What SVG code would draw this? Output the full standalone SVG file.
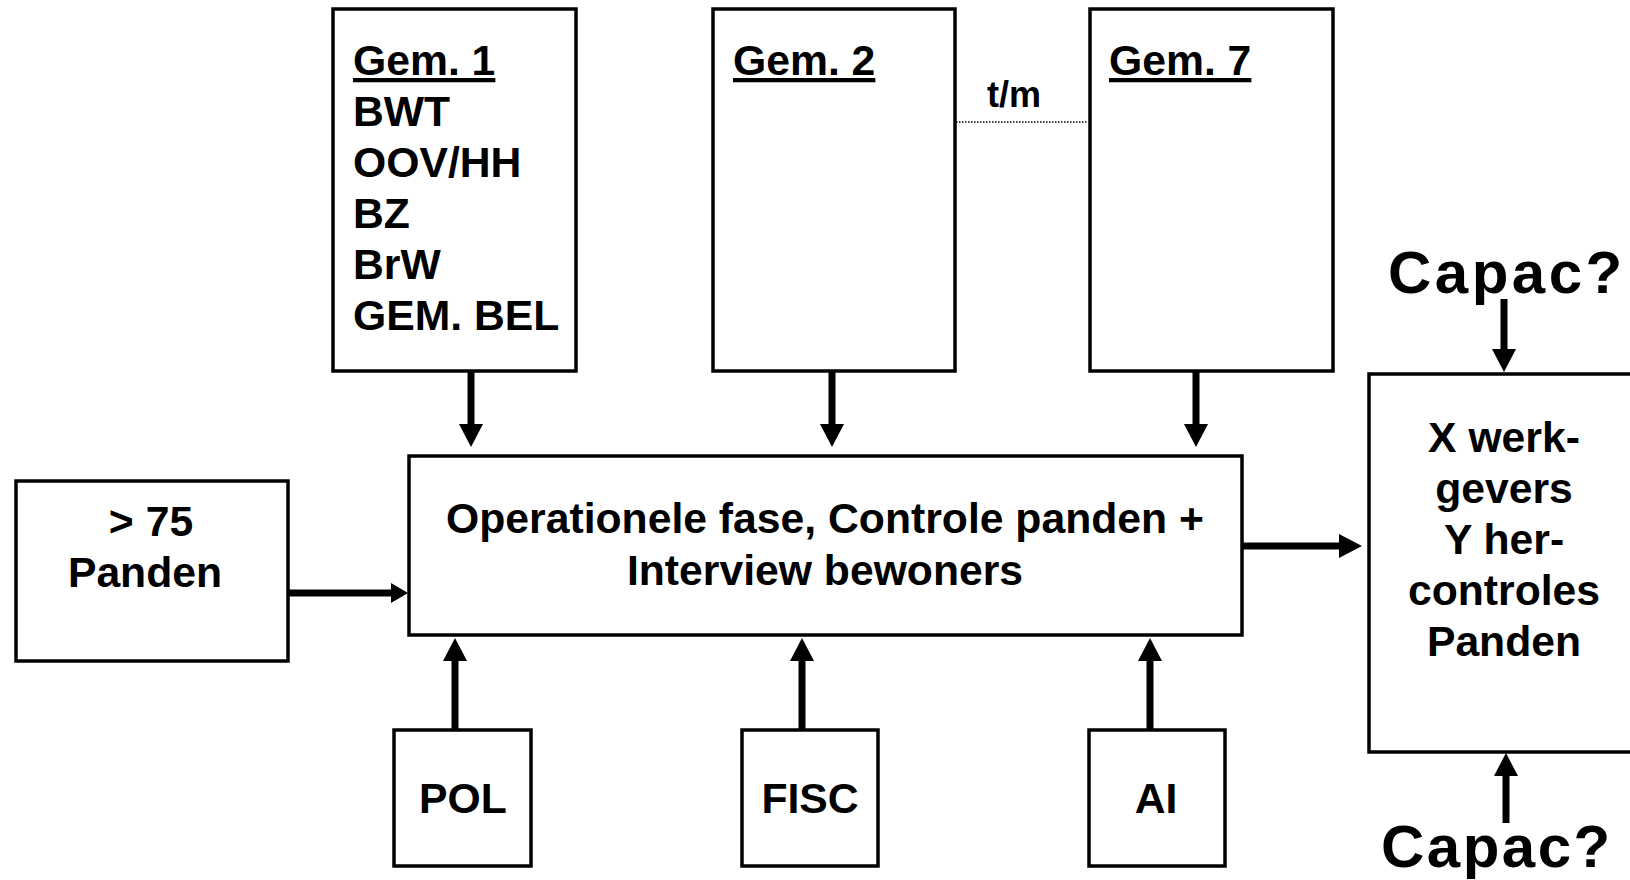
<svg xmlns="http://www.w3.org/2000/svg" width="1630" height="880" viewBox="0 0 1630 880">
<style>
.box{fill:#fff;stroke:#000;stroke-width:3.5}
.t{font-family:"Liberation Sans",Arial,sans-serif;font-weight:bold;font-size:42.7px;fill:#000}
.c{text-anchor:middle}
.u{text-decoration:underline}
.sh{stroke:#000;stroke-width:7;fill:none}
.cap{font-family:"Liberation Sans",Arial,sans-serif;font-weight:bold;fill:#000}
</style>
<defs>
<marker id="ah" markerUnits="userSpaceOnUse" markerWidth="24" markerHeight="26" refX="1" refY="12" orient="auto" viewBox="0 0 24 26">
<path d="M0,0 L23,12 L0,24 z" fill="#000"/>
</marker>
<marker id="ahs" markerUnits="userSpaceOnUse" markerWidth="18" markerHeight="22" refX="1" refY="10" orient="auto" viewBox="0 0 18 22">
<path d="M0,0 L17,10 L0,20 z" fill="#000"/>
</marker>
</defs>
<rect width="1630" height="880" fill="#fff"/>

<g id="connectors">
<line x1="956" y1="122" x2="1088" y2="122" stroke="#000" stroke-width="1.5" stroke-dasharray="1.5 1.5"/>
<line class="sh" x1="471" y1="372" x2="471" y2="425" marker-end="url(#ah)"/>
<line class="sh" x1="832" y1="372" x2="832" y2="425" marker-end="url(#ah)"/>
<line class="sh" x1="1196" y1="372" x2="1196" y2="425" marker-end="url(#ah)"/>
<line class="sh" x1="455" y1="729" x2="455" y2="660" marker-end="url(#ah)"/>
<line class="sh" x1="802" y1="729" x2="802" y2="660" marker-end="url(#ah)"/>
<line class="sh" x1="1150" y1="729" x2="1150" y2="660" marker-end="url(#ah)"/>
<line class="sh" x1="288" y1="593" x2="392" y2="593" stroke-width="6" marker-end="url(#ahs)"/>
<line class="sh" x1="1242" y1="546" x2="1340" y2="546" stroke-width="8" marker-end="url(#ah)"/>
<line class="sh" x1="1504" y1="299" x2="1504" y2="350" marker-end="url(#ah)"/>
<line class="sh" x1="1506" y1="823" x2="1506" y2="775" marker-end="url(#ah)"/>
</g>

<g id="gem1">
<rect class="box" x="333" y="9" width="243" height="362"/>
<text class="t u" x="353" y="75">Gem. 1</text>
<text class="t" x="353" y="126">BWT</text>
<text class="t" x="353" y="177">OOV/HH</text>
<text class="t" x="353" y="228">BZ</text>
<text class="t" x="353" y="279">BrW</text>
<text class="t" x="353" y="330">GEM. BEL</text>
</g>

<g id="gem2">
<rect class="box" x="713" y="9" width="242" height="362"/>
<text class="t u" x="733" y="75">Gem. 2</text>
</g>

<g id="tm">
<text class="t" x="987" y="107" style="font-size:36px">t/m</text>
</g>

<g id="gem7">
<rect class="box" x="1090" y="9" width="243" height="362"/>
<text class="t u" x="1109" y="75">Gem. 7</text>
</g>

<g id="main">
<rect class="box" x="409" y="456" width="833" height="179"/>
<text class="t c" x="825" y="533">Operationele fase, Controle panden +</text>
<text class="t c" x="825" y="585">Interview bewoners</text>
</g>

<g id="panden75">
<rect class="box" x="16" y="481" width="272" height="180"/>
<text class="t c" x="151" y="536">&gt; 75</text>
<text class="t c" x="145" y="587">Panden</text>
</g>

<g id="pol">
<rect class="box" x="394" y="730" width="137" height="136"/>
<text class="t c" x="463" y="813">POL</text>
</g>

<g id="fisc">
<rect class="box" x="742" y="730" width="136" height="136"/>
<text class="t c" x="810" y="813">FISC</text>
</g>

<g id="ai">
<rect class="box" x="1089" y="730" width="136" height="136"/>
<text class="t c" x="1156" y="813">AI</text>
</g>

<g id="result">
<rect class="box" x="1369" y="374" width="280" height="378"/>
<text class="t c" x="1504" y="452">X werk-</text>
<text class="t c" x="1504" y="503">gevers</text>
<text class="t c" x="1504" y="554">Y her-</text>
<text class="t c" x="1504" y="605">controles</text>
<text class="t c" x="1504" y="656">Panden</text>
</g>

<g id="capac-top">
<text class="cap" x="1388" y="293" style="font-size:60px;letter-spacing:3.5px">Capac?</text>
</g>
<g id="capac-bottom">
<text class="cap" x="1381" y="867" style="font-size:60px;letter-spacing:2.5px">Capac?</text>
</g>
</svg>
